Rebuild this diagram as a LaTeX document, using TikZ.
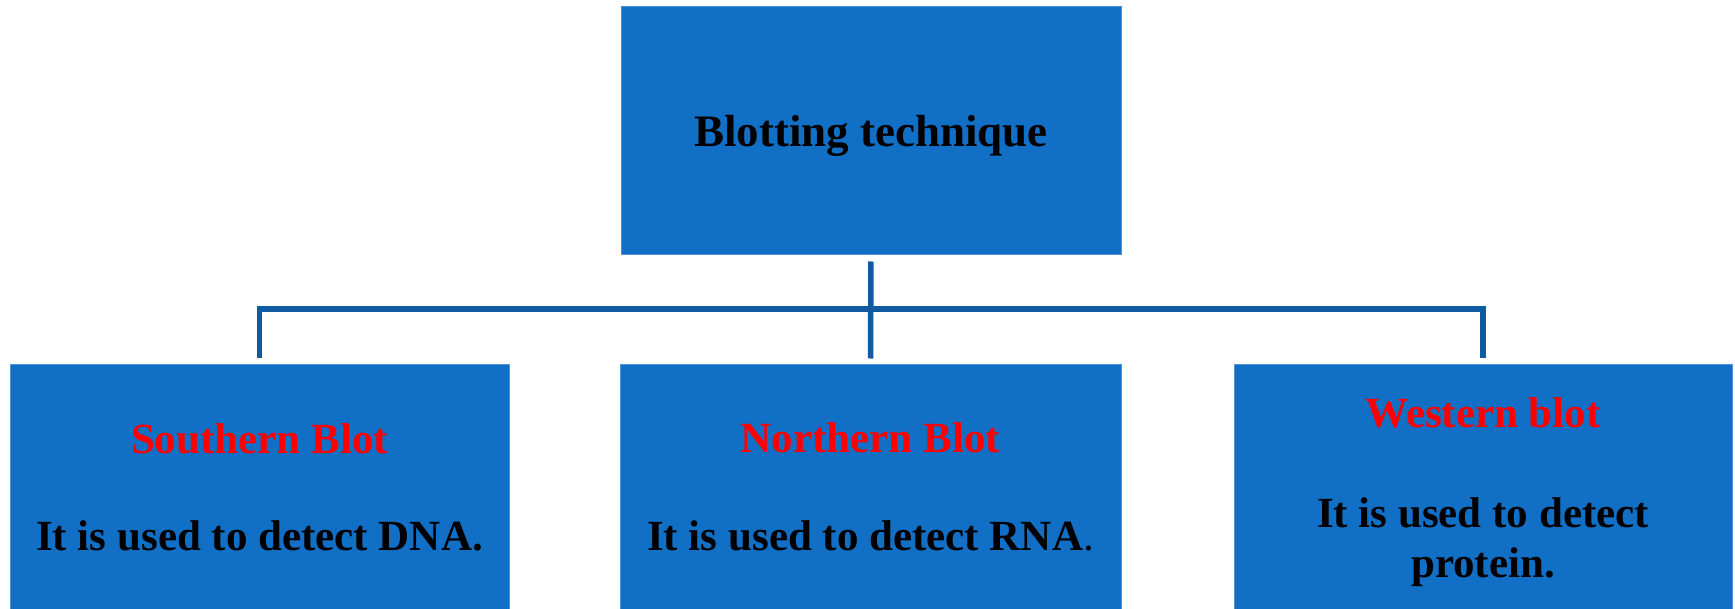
\documentclass[tikz,border=0pt]{standalone}
\usepackage{fontspec}
\setmainfont{Liberation Serif}
\definecolor{boxblue}{HTML}{1170C6}
\definecolor{edgeblue}{HTML}{4C93D8}
\definecolor{lineblue}{HTML}{0F5AA0}
\definecolor{titlered}{HTML}{FF0000}
\begin{document}
\begin{tikzpicture}[x=1pt,y=-1pt,
  box/.style={draw=edgeblue, line width=1pt, fill=boxblue, inner sep=0pt,
    minimum width=500pt},
  txt/.style={anchor=base, inner sep=0pt, text=black,
    font=\bfseries\fontsize{43}{48}\selectfont},
  ttl/.style={txt, text=titlered},
  conn/.style={draw=lineblue, line width=5.5pt}]
\useasboundingbox (0,0) rectangle (1735,609);
\fill[white] (0,0) rectangle (1735,609);
% boxes
\node[box, minimum height=248pt] (top) at (871,131) {};
\node[box, minimum width=499pt, minimum height=244pt] (lft) at (259.5,487) {};
\node[box, minimum width=501pt, minimum height=244pt] (mid) at (870.5,487) {};
\node[box, minimum width=498pt, minimum height=244pt] (rgt) at (1483,487) {};
% texts
\node[txt, font=\bfseries\fontsize{45}{50}\selectfont] (topT) at ([yshift=-16pt]top.center) {Blotting technique};
\node[ttl] (lftT) at ([yshift=-89pt]lft.north) {Southern Blot};
\node[txt] (lftD) at ([yshift=-186pt]lft.north) {It is used to detect DNA.};
\node[ttl] (midT) at ([yshift=-88pt]mid.north) {Northern Blot};
\node[txt] (midD) at ([yshift=-186pt]mid.north) {It is used to detect RNA{\mdseries.}};
\node[ttl] (rgtT) at ([yshift=-63pt]rgt.north) {Western blot};
\node[txt] (rgtD1) at ([yshift=-163pt]rgt.north) {It is used to detect};
\node[txt] (rgtD2) at ([yshift=-213pt]rgt.north) {protein.};
% connectors
\coordinate (hub) at (871,309);
\draw[conn, shorten <=6pt, shorten >=6pt] (top.south) -- (mid.north);
\draw[conn, shorten <=6pt, shorten >=6pt] (lft.north) -- (lft.north |- hub) -- (rgt.north |- hub) -- (rgt.north);
\end{tikzpicture}
\end{document}
